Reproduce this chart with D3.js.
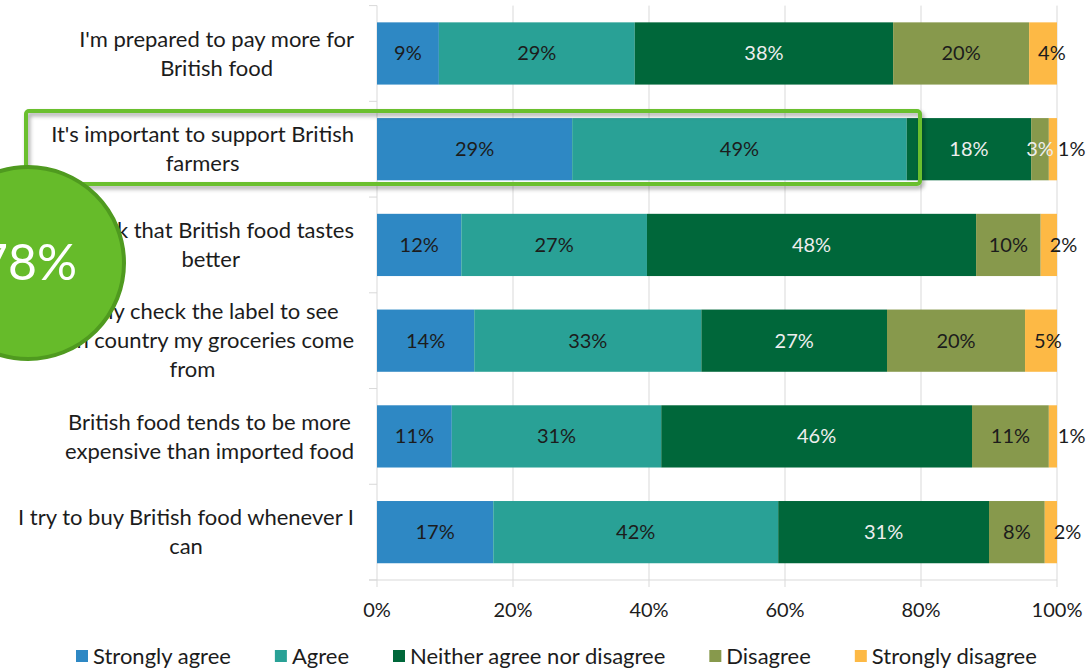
<!DOCTYPE html>
<html>
<head>
<meta charset="utf-8">
<script src="https://cdn.jsdelivr.net/npm/d3@7"></script>
<style>
  body { margin: 0; background: #fff; }
  svg { display: block; font-family: Lato, "Open Sans", sans-serif; }
</style>
</head>
<body>
<div id="chart"></div>
<script>
// categorias (linhas do gráfico), cada uma quebrada em linhas de texto
const categorias = [
  ["I'm prepared to pay more for", "British food"],
  ["It's important to support British", "farmers"],
  ["I think that British food tastes", "better"],
  ["I usually check the label to see", "which country my groceries come", "from"],
  ["British food tends to be more", "expensive than imported food"],
  ["I try to buy British food whenever I", "can"]
];

const series = ["Strongly agree", "Agree", "Neither agree nor disagree", "Disagree", "Strongly disagree"];

// valores (%)
const stronglyAgree = [9.1, 28.7, 12.4, 14.3, 11.0, 17.1];
const agree         = [28.8, 49.2, 27.3, 33.4, 30.8, 41.9];
const neither       = [38.0, 18.3, 48.4, 27.3, 45.7, 31.0];
const disagree      = [20.0, 2.6, 9.5, 20.3, 11.3, 8.2];
const stronglyDis   = [4.1, 1.2, 2.4, 4.7, 1.2, 1.8];

const ticks = [0, 20, 40, 60, 80, 100];
const destaque = 1;          // linha destacada
const destaqueValor = "78%"; // círculo

const cores = ["#2e88c4", "#29a196", "#00673a", "#87994c", "#fdb945"];
const coresTexto = ["#1c1c1c", "#1c1c1c", "#eeeeee", "#1c1c1c", "#1c1c1c"];

const width = 1092, height = 671;
const margin = { top: 5.6, left: 377, right: 35, bottom: 91 };

const svg = d3.select("#chart").append("svg")
  .attr("width", width)
  .attr("height", height);

const defs = svg.append("defs");
const sombra = defs.append("filter").attr("id", "sombra")
  .attr("x", "-5%").attr("y", "-30%").attr("width", "110%").attr("height", "160%");
sombra.append("feDropShadow")
  .attr("dx", 2).attr("dy", 3).attr("stdDeviation", 2)
  .attr("flood-color", "#000").attr("flood-opacity", 0.35);

const x = d3.scaleLinear().domain([0, 100]).range([margin.left, width - margin.right]);
const y = d3.scaleBand().domain(d3.range(categorias.length))
  .range([margin.top, height - margin.bottom]).paddingInner(0.35).paddingOuter(0.175);

// monta as linhas da tabela para o stack
const tabela = categorias.map((c, i) => ({
  i: i,
  "Strongly agree": stronglyAgree[i],
  "Agree": agree[i],
  "Neither agree nor disagree": neither[i],
  "Disagree": disagree[i],
  "Strongly disagree": stronglyDis[i]
}));
const pilha = d3.stack().keys(series)(tabela);

// grade vertical
svg.append("g")
  .selectAll("line")
  .data(ticks)
  .join("line")
  .attr("x1", d => x(d)).attr("x2", d => x(d))
  .attr("y1", margin.top).attr("y2", height - margin.bottom + 7)
  .attr("stroke", "#d9d9d9").attr("stroke-width", 1);

// eixo das categorias com marcas para fora
const yBottom = height - margin.bottom;
svg.append("line")
  .attr("x1", x(0) - 8).attr("x2", x(100))
  .attr("y1", yBottom).attr("y2", yBottom)
  .attr("stroke", "#d9d9d9");
const passo = y.step();
svg.append("g")
  .selectAll("line")
  .data(d3.range(categorias.length + 1))
  .join("line")
  .attr("x1", x(0) - 8).attr("x2", x(0))
  .attr("y1", d => margin.top + d * passo).attr("y2", d => margin.top + d * passo)
  .attr("stroke", "#d9d9d9");

// barras
const grupos = svg.append("g")
  .selectAll("g")
  .data(pilha)
  .join("g")
  .attr("fill", (d, k) => cores[k]);

grupos.selectAll("rect")
  .data(d => d)
  .join("rect")
  .attr("x", d => x(d[0]))
  .attr("width", d => x(d[1]) - x(d[0]))
  .attr("y", d => y(d.data.i))
  .attr("height", y.bandwidth());

// rótulos dentro das barras
pilha.forEach((s, k) => {
  svg.append("g")
    .selectAll("text")
    .data(s)
    .join("text")
    .attr("x", d => k === series.length - 1 ? x(d[0]) + 9 : (x(d[0]) + x(d[1])) / 2)
    .attr("y", d => y(d.data.i) + y.bandwidth() / 2)
    .attr("dy", "0.35em")
    .attr("text-anchor", k === series.length - 1 ? "start" : "middle")
    .attr("font-size", 20)
    .attr("fill", d => (k === 3 && d.data.i === destaque) ? "#eeeeee" : coresTexto[k])
    .text(d => Math.round(d[1] - d[0]) + "%");
});

// rótulos das categorias (centralizados em bloco, alinhados à direita)
const rotDireita = 354;
const alturaLinha = 29;
categorias.forEach((linhas, i) => {
  const g = svg.append("g");
  const t = g.selectAll("text")
    .data(linhas)
    .join("text")
    .attr("font-size", 22)
    .attr("fill", "#1c1c1c")
    .attr("text-anchor", "middle")
    .attr("dy", "0.35em")
    .text(d => d);
  let maior = 0;
  t.each(function() { maior = Math.max(maior, this.getComputedTextLength()); });
  const cy = y(i) + y.bandwidth() / 2;
  t.attr("x", rotDireita - maior / 2)
   .attr("y", (d, j) => cy + (j - (linhas.length - 1) / 2) * alturaLinha);
});

// eixo x
svg.append("g")
  .selectAll("text")
  .data(ticks)
  .join("text")
  .attr("x", d => x(d))
  .attr("y", yBottom + 30)
  .attr("dy", "0.35em")
  .attr("text-anchor", "middle")
  .attr("font-size", 20)
  .attr("fill", "#1c1c1c")
  .text(d => d + "%");

// legenda
const legenda = svg.append("g").attr("transform", `translate(0, 656)`);
let lx = 76;
series.forEach((s, k) => {
  legenda.append("rect")
    .attr("x", lx).attr("y", -6).attr("width", 12).attr("height", 12)
    .attr("fill", cores[k]);
  const t = legenda.append("text")
    .attr("x", lx + 17).attr("dy", "0.35em")
    .attr("font-size", 22).attr("fill", "#1c1c1c")
    .text(s);
  lx += 17 + t.node().getComputedTextLength() + 44;
});

// caixa de destaque
svg.append("rect")
  .attr("x", 26).attr("y", 111)
  .attr("width", 894).attr("height", 73)
  .attr("rx", 3)
  .attr("fill", "none")
  .attr("stroke", "#6abf2e")
  .attr("stroke-width", 4)
  .attr("filter", "url(#sombra)");

// círculo com o total
svg.append("circle")
  .attr("cx", 28).attr("cy", 263).attr("r", 96)
  .attr("fill", "#66bb2a")
  .attr("stroke", "#4f9a1f")
  .attr("stroke-width", 4);
svg.append("text")
  .attr("x", 28).attr("y", 280)
  .attr("text-anchor", "middle")
  .attr("font-size", 50)
  .attr("fill", "#ffffff")
  .text(destaqueValor);
</script>
</body>
</html>
